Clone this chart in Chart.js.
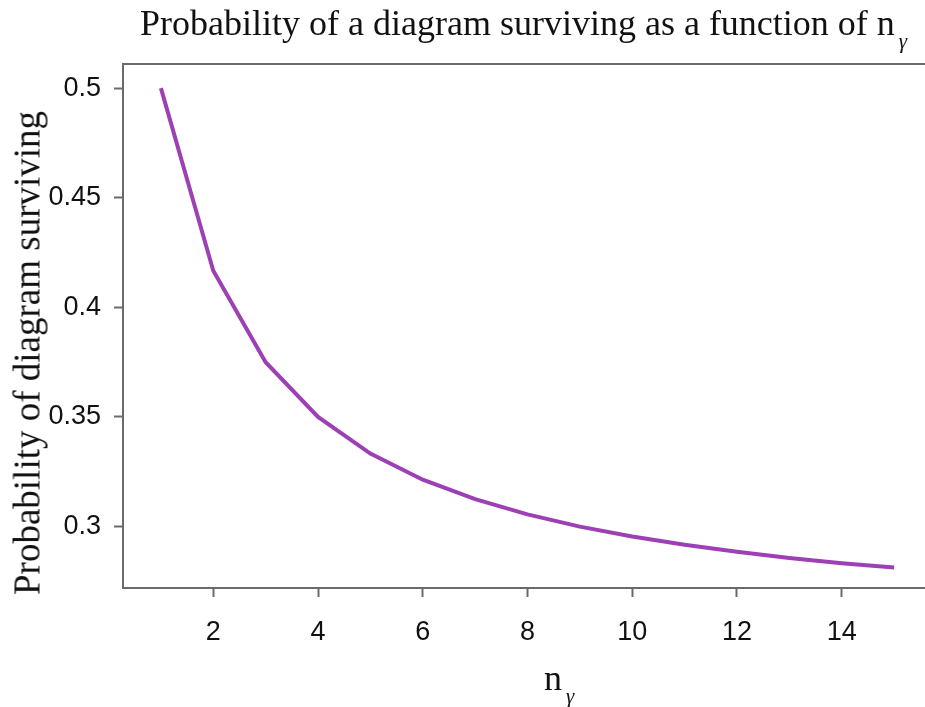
<!DOCTYPE html>
<html lang="en">
<head>
    <meta charset="UTF-8">
    <title>Probability of a diagram surviving</title>
    <script src="https://cdn.jsdelivr.net/npm/chart.js"></script>
    <style>
        body {
            margin: 0;
            background: #fff;
            overflow: hidden;
        }
        #wrap {
            position: relative;
            width: 925px;
            height: 707px;
        }
        canvas {
            position: absolute;
            left: 0;
            top: 0;
        }
        .lbl {
            position: absolute;
            font-family: "Liberation Serif", "Times New Roman", serif;
            font-size: 36px;
            line-height: 1;
            color: #111;
            white-space: nowrap;
        }
        .lbl sub {
            font-size: 21px;
            font-style: italic;
            vertical-align: -13px;
            margin-left: 4px;
        }
        #title { left: 140px; top: 5px; }
        #xlabel { left: 544px; top: 660px; }
        #ylabel {
            left: 27px;
            top: 353px;
            font-size: 37px;
            transform: translate(-50%, -50%) rotate(-90deg);
        }
    </style>
</head>
<body>

<div id="wrap">
    <canvas id="chart" width="925" height="707"></canvas>
    <div class="lbl" id="title">Probability of a diagram surviving as a function of n<sub>γ</sub></div>
    <div class="lbl" id="ylabel">Probability of diagram surviving</div>
    <div class="lbl" id="xlabel">n<sub>γ</sub></div>
</div>

<script>
    // valeurs
    const nGamma = [1, 2, 3, 4, 5, 6, 7, 8, 9, 10, 11, 12, 13, 14, 15];
    const survival = [0.5, 0.4167, 0.375, 0.35, 0.3333, 0.3214, 0.3125, 0.3056,
                      0.3, 0.2955, 0.2917, 0.2885, 0.2857, 0.2833, 0.2813];
    const xTicks = [2, 4, 6, 8, 10, 12, 14];
    const yTicks = [0.3, 0.35, 0.4, 0.45, 0.5];

    const axisGray = '#6a6a6a';
    const tickFont = { family: '"Liberation Sans", Arial, sans-serif', size: 27 };

    const ctx = document.getElementById('chart').getContext('2d');
    new Chart(ctx, {
        type: 'line',
        data: {
            datasets: [{
                data: nGamma.map((n, i) => ({ x: n, y: survival[i] })),
                borderColor: '#9d40b5',
                borderWidth: 4,
                pointRadius: 0,
                tension: 0,
                fill: false,
                xAxisID: 'x',
                yAxisID: 'y'
            }]
        },
        options: {
            responsive: false,
            animation: false,
            layout: { padding: { top: 64, left: 0, right: 0, bottom: 0 } },
            plugins: {
                legend: { display: false },
                title: { display: false },
                tooltip: { enabled: false }
            },
            scales: {
                x: {
                    type: 'linear',
                    position: 'bottom',
                    min: 0.276,
                    max: 15.59,
                    afterBuildTicks: s => { s.ticks = xTicks.map(v => ({ value: v })); },
                    afterFit: s => { s.height = 119; },
                    grid: { drawOnChartArea: false, drawTicks: true, tickLength: 9, tickColor: axisGray, tickWidth: 2 },
                    border: { color: axisGray, width: 2 },
                    ticks: { font: tickFont, color: '#111', padding: 19, maxRotation: 0 }
                },
                x2: {
                    type: 'linear',
                    position: 'top',
                    min: 0,
                    max: 1,
                    afterFit: s => { s.height = 0; },
                    grid: { drawOnChartArea: false, drawTicks: false },
                    border: { color: axisGray, width: 2 },
                    ticks: { display: false }
                },
                y: {
                    type: 'linear',
                    min: 0.272,
                    max: 0.511,
                    afterBuildTicks: s => { s.ticks = yTicks.map(v => ({ value: v })); },
                    afterFit: s => { s.width = 123; },
                    grid: { drawOnChartArea: false, drawTicks: true, tickLength: 9, tickColor: axisGray, tickWidth: 2 },
                    border: { color: axisGray, width: 2 },
                    ticks: {
                        font: tickFont,
                        color: '#111',
                        padding: 13,
                        callback: v => String(+v.toFixed(2))
                    }
                }
            }
        }
    });
</script>
</body>
</html>
